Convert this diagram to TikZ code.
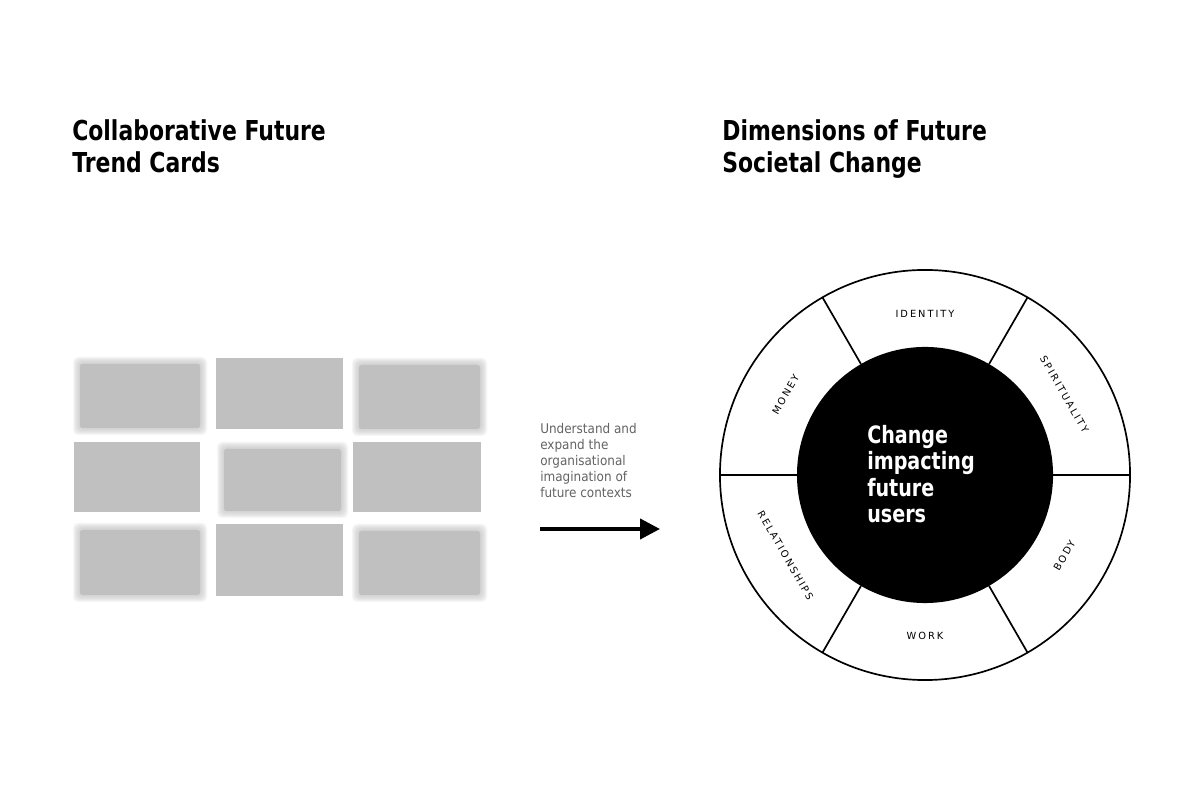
\documentclass[tikz,border=0pt]{standalone}
\usepackage{fontspec}
\setmainfont{DejaVu Sans}
\newfontfamily\headfont{DejaVu Sans}[FakeStretch=0.8]
\newfontfamily\notefont{DejaVu Sans}[FakeStretch=0.9]
\newfontfamily\ringfont{DejaVu Sans}[LetterSpace=20]
\usepackage{tikz}
\usetikzlibrary{arrows.meta}
\definecolor{CardGrey}{RGB}{192,192,192}
\definecolor{NoteGrey}{RGB}{100,100,100}

\tikzset{
  heading/.style={anchor=north west, inner sep=0pt, align=left,
    font=\headfont\bfseries\fontsize{19.5}{23}\selectfont},
  ringlabel/.style={inner sep=0pt, font=\ringfont\fontsize{7}{8}\selectfont},
  divider/.style={line width=1.2pt},
}

% sharp card and blurred card (x1, y1, x2, y2 in px)
\newcommand{\flatcard}[4]{\fill[CardGrey] (#1,#2) rectangle (#3,#4);}
\newcommand{\fuzzycard}[4]{%
  \foreach \g in {-1,0,...,5}
    \fill[CardGrey, opacity=0.14, rounded corners=1.2mm] (#1-\g,#2-\g) rectangle (#3+\g,#4+\g);
  \fill[CardGrey, rounded corners=0.6mm] (#1+2,#2+2) rectangle (#3-2,#4-2);
}

\begin{document}
\begin{tikzpicture}[x=0.025cm, y=0.025cm]
    \fill[white] (0,0) rectangle (1200,800);
    \useasboundingbox (0,0) rectangle (1200,800);

    % --- Trend cards (left) ---
    \node[heading] (cardtitle) at (72,681) {Collaborative Future\\Trend Cards};
    \fuzzycard{78}{370}{202}{438}
    \flatcard{216}{371}{343}{442}
    \fuzzycard{357}{369}{482}{437}
    \flatcard{74}{288}{200}{358}
    \fuzzycard{222}{287}{343}{353}
    \flatcard{353}{288}{481}{358}
    \fuzzycard{78}{203}{202}{272}
    \flatcard{216}{204}{343}{276}
    \fuzzycard{357}{203}{482}{271}

    % --- Note and arrow ---
    \node[anchor=north west, inner sep=0pt, align=left, text=NoteGrey,
      font=\notefont\fontsize{9.5}{11.4}\selectfont] (note) at (540,377)
      {Understand and\\expand the\\organisational\\imagination of\\future contexts};
    \coordinate (arrowtail) at (540,271);
    \coordinate (arrowtip) at (660,271);
    \draw[line width=0.1cm, -{Triangle[length=0.5cm, width=0.5cm]}] (arrowtail) -- (arrowtip);

    % --- Wheel (right) ---
    \node[heading] (wheeltitle) at (722,681) {Dimensions of Future\\Societal Change};
    \node[circle, draw, line width=1.2pt, minimum size=10.25cm, inner sep=0pt, outer sep=0pt] (wheel) at (925,325) {};
    \node[circle, fill=black, minimum size=6.4cm, inner sep=0pt, outer sep=0pt] (hub) at (wheel.center) {};
    \foreach \a in {0,60,...,300}
        \draw[divider] (hub.\a) -- (wheel.\a);
    \foreach \a/\r/\t in {90/0/IDENTITY, 30/-60/SPIRITUALITY, 150/60/MONEY,
                          210/-60/RELATIONSHIPS, 270/0/WORK, 330/60/BODY}
        \node[ringlabel, rotate=\r] (lab-\t) at ([shift={(\a:161)}]wheel.center) {\t};
    \node[anchor=north west, inner sep=0pt, align=left, text=white,
      font=\headfont\bfseries\fontsize{17}{18.8}\selectfont] (hubtext) at (867,375)
      {Change\\impacting\\future\\users};
\end{tikzpicture}
\end{document}
